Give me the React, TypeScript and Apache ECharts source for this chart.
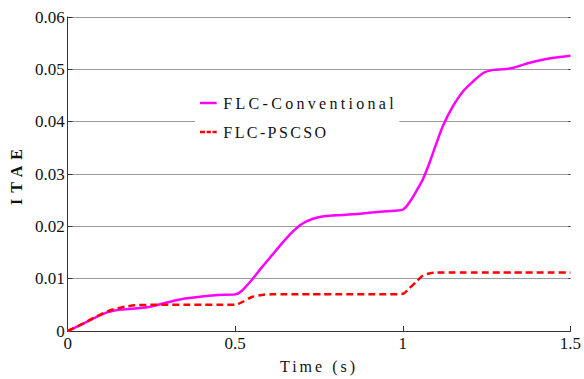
import React, { useEffect, useRef } from "react";
import * as echarts from "echarts";

// Simulation time (s)
const time = [
  0, 0.04, 0.08, 0.12, 0.16, 0.2, 0.25, 0.3, 0.35, 0.4, 0.45, 0.5, 0.52, 0.55,
  0.58, 0.61, 0.64, 0.67, 0.7, 0.73, 0.76, 0.8, 0.85, 0.9, 0.95, 1.0, 1.02,
  1.04, 1.06, 1.08, 1.1, 1.12, 1.15, 1.18, 1.21, 1.24, 1.27, 1.3, 1.33, 1.36,
  1.4, 1.45, 1.5,
];

// ITAE of the conventional fuzzy controller
const itaeConventional = [
  0, 0.0012, 0.0025, 0.0036, 0.0041, 0.0043, 0.0047, 0.0055, 0.0062, 0.0066,
  0.0069, 0.007, 0.0077, 0.0098, 0.0122, 0.0145, 0.0168, 0.0189, 0.0205,
  0.0214, 0.0219, 0.0221, 0.0223, 0.0226, 0.0229, 0.0232, 0.0246, 0.0267,
  0.029, 0.0322, 0.0358, 0.0392, 0.043, 0.0458, 0.0477, 0.0493, 0.0499, 0.05,
  0.0503, 0.0509, 0.0516, 0.0522, 0.0526,
];

// ITAE of the PSCSO-tuned fuzzy controller
const itaePscso = [
  0, 0.0012, 0.0026, 0.0038, 0.0045, 0.0049, 0.005, 0.005, 0.005, 0.005,
  0.005, 0.005, 0.0055, 0.0065, 0.0069, 0.007, 0.007, 0.007, 0.007, 0.007,
  0.007, 0.007, 0.007, 0.007, 0.007, 0.0071, 0.0082, 0.0094, 0.0106, 0.011,
  0.0112, 0.0112, 0.0112, 0.0112, 0.0112, 0.0112, 0.0112, 0.0112, 0.0112,
  0.0112, 0.0112, 0.0112, 0.0112,
];

const seriesNames = ["FLC-Conventional", "FLC-PSCSO"];
const xAxisName = "Time (s)";
const yAxisName = "ITAE";

// Extra letter spacing (px) for the spaced-out captions
const LETTER_SPACING: Record<string, number> = {
  "FLC-Conventional": 3.3,
  "FLC-PSCSO": 2.4,
  "Time (s)": 3,
  ITAE: 6,
};

const FONT = "Liberation Serif";
const FONT_STACK = "'Liberation Serif', serif";

// Legend glyphs: a solid stroke and a dashed stroke
const SOLID_ICON = "path://M0,0h20v3h-20z";
const DASHED_ICON = "path://M0,0h6v3h-6z M8,0h5v3h-5z M15,0h5v3h-5z";

export default function App() {
  const ref = useRef<HTMLDivElement>(null);

  useEffect(() => {
    const el = ref.current;
    if (!el) return;
    const chart = echarts.init(el, undefined, { renderer: "svg" });

    const pairs = (ys: number[]) => time.map((t, i) => [t, ys[i]]);

    chart.setOption({
      animation: false,
      grid: { left: 62, right: 11, top: 17, bottom: 46 },
      legend: {
        orient: "vertical",
        left: 195,
        top: 89,
        padding: [5, 4, 6, 5],
        backgroundColor: "#fff",
        itemWidth: 20,
        itemHeight: 2.5,
        itemGap: 11,
        textStyle: {
          fontFamily: FONT,
          fontSize: 16,
          color: "#111",
          width: 172,
          lineHeight: 18,
        },
        data: [
          { name: seriesNames[0], icon: SOLID_ICON },
          { name: seriesNames[1], icon: DASHED_ICON },
        ],
      },
      xAxis: {
        type: "value",
        min: 0,
        max: 1.5,
        interval: 0.5,
        name: xAxisName,
        nameLocation: "middle",
        nameGap: 27,
        nameTextStyle: { fontFamily: FONT, fontSize: 16, color: "#111" },
        axisLine: { show: true, lineStyle: { color: "#333", width: 1 } },
        axisTick: { show: true, inside: true, length: 5, lineStyle: { color: "#333" } },
        axisLabel: { fontFamily: FONT, fontSize: 17, color: "#111", margin: 4 },
        splitLine: { show: false },
      },
      yAxis: [
        {
          type: "value",
          min: 0,
          max: 0.06,
          interval: 0.01,
          name: yAxisName,
          nameLocation: "middle",
          nameGap: 35,
          nameTextStyle: {
            fontFamily: FONT,
            fontSize: 16,
            fontWeight: "bold",
            color: "#111",
          },
          axisLine: { show: true, lineStyle: { color: "#333", width: 1 } },
          axisTick: { show: true, inside: true, length: 5, lineStyle: { color: "#333" } },
          axisLabel: { fontFamily: FONT, fontSize: 17, color: "#111", margin: 3 },
          splitLine: { show: true, lineStyle: { color: "#9a9a9a", width: 1.2 } },
        },
        {
          type: "value",
          position: "right",
          min: 0,
          max: 0.06,
          interval: 0.01,
          axisLine: { show: false },
          axisTick: { show: true, inside: true, length: 2, lineStyle: { color: "#333" } },
          axisLabel: { show: false },
          splitLine: { show: false },
        },
      ],
      series: [
        {
          name: seriesNames[0],
          type: "line",
          data: pairs(itaeConventional),
          showSymbol: false,
          symbol: "none",
          smooth: 0.25,
          lineStyle: { color: "#ff00ff", width: 2.5 },
          itemStyle: { color: "#ff00ff" },
          z: 3,
        },
        {
          name: seriesNames[1],
          type: "line",
          data: pairs(itaePscso),
          showSymbol: false,
          symbol: "none",
          smooth: 0.25,
          lineStyle: { color: "#ff0000", width: 2.5, type: [7, 4] },
          itemStyle: { color: "#ff0000" },
          z: 4,
        },
      ],
    });

    // Serif face on every caption, plus tracking on the spaced-out ones
    const styleTexts = () => {
      el.querySelectorAll("text").forEach((t) => {
        t.style.setProperty("font-family", FONT_STACK, "important");
        const s = LETTER_SPACING[(t.textContent || "").trim()];
        if (s !== undefined) t.setAttribute("letter-spacing", `${s}px`);
      });
    };
    styleTexts();
    chart.on("finished", styleTexts);
    const timer = window.setTimeout(styleTexts, 0);

    return () => {
      window.clearTimeout(timer);
      chart.dispose();
    };
  }, []);

  return (
    <div
      ref={ref}
      style={{ position: "fixed", left: 0, top: 0, width: 584, height: 379, background: "#fff" }}
    />
  );
}
